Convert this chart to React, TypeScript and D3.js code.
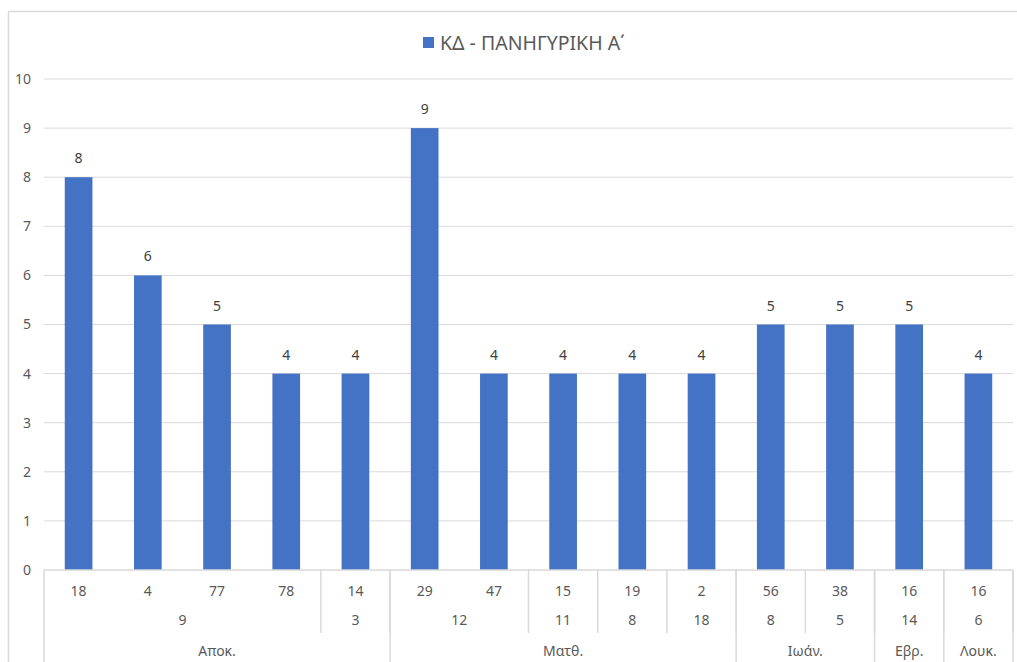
import { useEffect, useRef } from "react"
import * as d3 from "d3"

// series values, one per bar
const values = [8, 6, 5, 4, 4, 9, 4, 4, 4, 4, 5, 5, 5, 4]
// three-level category axis, one entry per bar
const verses = ["18", "4", "77", "78", "14", "29", "47", "15", "19", "2", "56", "38", "16", "16"]
const chapters = ["9", "9", "9", "9", "3", "12", "12", "11", "8", "18", "8", "5", "14", "6"]
const books = ["Αποκ.", "Αποκ.", "Αποκ.", "Αποκ.", "Αποκ.", "Ματθ.", "Ματθ.", "Ματθ.", "Ματθ.", "Ματθ.", "Ιωάν.", "Ιωάν.", "Εβρ.", "Λουκ."]
const yTicks = [0, 1, 2, 3, 4, 5, 6, 7, 8, 9, 10]
const seriesName = "ΚΔ - ΠΑΝΗΓΥΡΙΚΗ Α΄"

const runs = (keys: string[]) => {
	const out: { start: number; end: number; i: number }[] = []
	keys.forEach((k, i) => {
		const last = out[out.length - 1]
		if (last && keys[last.i] === k) last.end = i
		else out.push({ start: i, end: i, i })
	})
	return out
}

const App = () => {
	const svgRef = useRef(null)

	useEffect(() => {
		const svg = d3.select(svgRef.current)
		svg.selectAll("*").remove()

		const width = 1017
		const height = 662
		const left = 44
		const right = 1013
		const top = 79
		const bottom = 570
		const font = "'Noto Sans', 'DejaVu Sans', sans-serif"
		const grid = "#d9d9d9"
		const textCol = "#595959"

		svg.attr("width", width).attr("height", height)

		// chart frame
		svg.append("rect")
			.attr("x", 8.5).attr("y", 11.5)
			.attr("width", 1030).attr("height", 700)
			.attr("fill", "white").attr("stroke", grid).attr("stroke-width", 1.5)

		const x = d3.scaleBand<number>().domain(d3.range(values.length)).range([left, right]).paddingInner(0.6).paddingOuter(0.3)
		const band = (right - left) / values.length
		const y = d3.scaleLinear().domain([0, 10]).range([bottom, top])

		// gridlines
		svg.append("g").selectAll("line").data(yTicks.slice(1)).enter().append("line")
			.attr("x1", left).attr("x2", right)
			.attr("y1", d => y(d)).attr("y2", d => y(d))
			.attr("stroke", grid).attr("stroke-width", 1)

		// y labels
		svg.append("g").selectAll("text").data(yTicks).enter().append("text")
			.attr("x", 31).attr("y", d => y(d))
			.attr("dy", "0.35em").attr("text-anchor", "end")
			.attr("font-family", font).attr("font-size", 14).attr("fill", textCol)
			.text(d => d)

		// bars
		svg.append("g").selectAll("rect").data(values).enter().append("rect")
			.attr("x", (d, i) => x(i)!).attr("width", x.bandwidth())
			.attr("y", d => y(d)).attr("height", d => bottom - y(d))
			.attr("fill", "#4472c4")

		// data labels
		svg.append("g").selectAll("text").data(values).enter().append("text")
			.attr("x", (d, i) => x(i)! + x.bandwidth() / 2).attr("y", d => y(d) - 14)
			.attr("text-anchor", "middle")
			.attr("font-family", font).attr("font-size", 14).attr("fill", "#404040")
			.text(d => d)

		// category axis table
		const ax = svg.append("g").attr("font-family", font).attr("font-size", 14).attr("fill", textCol).attr("text-anchor", "middle")
		ax.append("line").attr("x1", left).attr("x2", right).attr("y1", bottom).attr("y2", bottom).attr("stroke", grid).attr("stroke-width", 1.5)

		verses.forEach((v, i) => {
			ax.append("text").attr("x", left + band * (i + 0.5)).attr("y", 591).attr("dy", "0.35em").text(v)
		})

		const bookRuns = runs(books)
		const chapterRuns = runs(books.map((b, i) => b + "|" + chapters[i]))

		chapterRuns.forEach(r => {
			ax.append("text").attr("x", left + band * ((r.start + r.end + 1) / 2)).attr("y", 620).attr("dy", "0.35em").text(chapters[r.i])
			ax.append("line")
				.attr("x1", left + band * (r.end + 1)).attr("x2", left + band * (r.end + 1))
				.attr("y1", bottom).attr("y2", 633)
				.attr("stroke", grid).attr("stroke-width", 1.5)
		})

		bookRuns.forEach(r => {
			ax.append("text").attr("x", left + band * ((r.start + r.end + 1) / 2)).attr("y", 651).attr("dy", "0.35em").text(books[r.i])
			ax.append("line")
				.attr("x1", left + band * (r.end + 1)).attr("x2", left + band * (r.end + 1))
				.attr("y1", bottom).attr("y2", height)
				.attr("stroke", grid).attr("stroke-width", 1.5)
		})
		ax.append("line").attr("x1", left).attr("x2", left).attr("y1", bottom).attr("y2", height).attr("stroke", grid).attr("stroke-width", 1.5)

		// legend
		const lg = svg.append("g")
		lg.append("rect").attr("x", 423).attr("y", 37).attr("width", 11).attr("height", 11).attr("fill", "#4472c4")
		lg.append("text").attr("x", 440).attr("y", 43).attr("dy", "0.35em")
			.attr("font-family", font).attr("font-size", 19.5).attr("fill", textCol)
			.text(seriesName)
	}, [])

	return <svg ref={svgRef} style={{ position: "absolute", left: 0, top: 0 }}></svg>
}

export default App
